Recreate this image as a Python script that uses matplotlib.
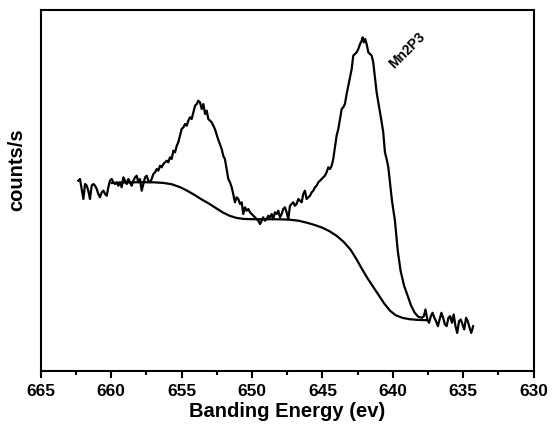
import matplotlib.pyplot as plt
from matplotlib.ticker import MultipleLocator

plt.rcParams["font.family"] = ["Liberation Sans", "DejaVu Sans"]

# binding energy (eV) and counts (arbitrary units)
energy = [
    662.33, 662.21, 662.09, 661.97, 661.85, 661.73, 661.62, 661.50, 661.38, 661.26,
    661.14, 661.02, 660.91, 660.79, 660.67, 660.55, 660.43, 660.31, 660.20, 660.08,
    659.96, 659.84, 659.72, 659.60, 659.49, 659.37, 659.25, 659.13, 659.01, 658.89,
    658.78, 658.66, 658.54, 658.42, 658.30, 658.18, 658.07, 657.95, 657.83, 657.71,
    657.59, 657.47, 657.36, 657.24, 657.12, 657.00, 656.88, 656.76, 656.65, 656.53,
    656.41, 656.29, 656.17, 656.05, 655.94, 655.82, 655.70, 655.58, 655.46, 655.34,
    655.23, 655.11, 654.99, 654.87, 654.75, 654.63, 654.52, 654.40, 654.28, 654.16,
    654.04, 653.92, 653.81, 653.69, 653.57, 653.45, 653.33, 653.21, 653.10, 652.98,
    652.86, 652.63, 652.41, 652.15, 652.04, 651.92, 651.80, 651.68, 651.56, 651.44,
    651.33, 651.21, 651.09, 650.97, 650.85, 650.73, 650.62, 650.50, 650.38, 650.26,
    650.14, 650.02, 649.91, 649.79, 649.67, 649.55, 649.43, 649.31, 649.20, 649.08,
    648.96, 648.84, 648.72, 648.60, 648.49, 648.37, 648.25, 648.13, 648.01, 647.89,
    647.78, 647.66, 647.54, 647.42, 647.30, 647.18, 647.07, 646.95, 646.83, 646.71,
    646.59, 646.47, 646.36, 646.24, 646.12, 646.00, 645.88, 645.76, 645.65, 645.53,
    645.41, 645.29, 645.17, 645.05, 644.94, 644.82, 644.70, 644.58, 644.46, 644.34,
    644.23, 644.11, 643.99, 643.87, 643.75, 643.63, 643.52, 643.40, 643.28, 643.16,
    643.04, 642.92, 642.81, 642.69, 642.57, 642.45, 642.33, 642.21, 642.14, 642.05,
    641.96, 641.86, 641.74, 641.62, 641.50, 641.39, 641.27, 641.15, 641.03, 640.91,
    640.79, 640.68, 640.56, 640.44, 640.32, 640.06, 639.85, 639.65, 639.45, 639.20,
    638.95, 638.70, 638.45, 638.20, 637.93, 637.80, 637.68, 637.55, 637.43, 637.30,
    637.18, 637.05, 636.93, 636.80, 636.68, 636.55, 636.43, 636.30, 636.18, 636.05,
    635.93, 635.80, 635.68, 635.55, 635.43, 635.30, 635.18, 635.05, 634.93, 634.80,
    634.68, 634.55, 634.43, 634.30,
]
counts = [
    190.0, 191.7, 181.7, 171.7, 186.7, 185.0, 180.0, 171.7, 185.0, 186.7,
    185.0, 181.7, 176.7, 173.4, 178.4, 180.0, 176.7, 175.0, 183.4, 190.0,
    191.7, 188.4, 186.7, 188.4, 185.0, 188.4, 183.4, 193.4, 190.0, 186.7,
    191.7, 188.4, 185.0, 190.0, 193.4, 195.0, 188.4, 191.7, 180.0, 186.7,
    193.4, 195.0, 190.0, 188.4, 191.7, 196.7, 198.4, 201.7, 200.0, 205.0,
    203.4, 206.7, 208.4, 210.0, 208.4, 213.4, 211.7, 220.0, 218.4, 225.0,
    228.4, 235.0, 241.7, 243.4, 246.7, 245.0, 250.0, 253.4, 251.7, 258.4,
    265.0, 266.7, 270.0, 268.4, 261.7, 266.7, 256.7, 260.0, 251.7, 250.0,
    248.4, 241.7, 231.7, 221.7, 215.0, 211.7, 201.7, 191.7, 188.4, 183.4,
    176.7, 168.4, 173.4, 171.7, 166.7, 168.4, 156.7, 163.4, 160.0, 161.7,
    158.4, 156.7, 155.0, 153.4, 151.7, 150.0, 146.7, 150.0, 153.4, 150.0,
    151.7, 155.0, 153.4, 156.7, 151.7, 158.4, 156.7, 160.0, 153.4, 156.7,
    161.7, 163.4, 158.4, 151.7, 165.0, 166.7, 168.4, 165.0, 166.7, 171.7,
    170.0, 168.4, 176.7, 180.0, 171.7, 173.4, 175.0, 178.4, 180.0, 183.4,
    185.0, 188.4, 190.0, 191.7, 193.4, 195.0, 198.4, 203.4, 201.7, 205.0,
    211.7, 223.0, 235.0, 241.7, 251.7, 261.7, 263.4, 266.7, 276.7, 285.0,
    293.4, 301.7, 315.0, 316.7, 318.4, 321.7, 326.7, 330.0, 333.4, 328.4,
    331.7, 326.7, 318.4, 316.7, 315.0, 308.4, 293.4, 278.4, 268.4, 258.4,
    248.4, 238.4, 218.4, 211.7, 203.4, 170.0, 150.0, 120.0, 100.0, 85.0,
    75.0, 65.0, 58.0, 54.0, 52.9, 54.5, 61.2, 51.2, 47.9, 54.5,
    57.9, 52.9, 49.5, 44.5, 51.2, 57.9, 52.9, 46.2, 44.5, 52.9,
    54.5, 47.9, 56.2, 44.5, 37.8, 49.5, 51.2, 46.2, 41.2, 52.9,
    49.5, 42.8, 37.8, 44.5,
]

# Shirley-type background
bg_energy = [
    659.95, 659.0, 658.0, 657.0, 656.3, 655.7, 655.1, 654.6, 654.1, 653.6,
    653.1, 652.6, 652.1, 651.6, 651.1, 650.6, 650.0, 649.0, 648.0, 647.3,
    646.7, 646.1, 645.5, 645.0, 644.5, 644.0, 643.5, 643.0, 642.6, 642.2,
    641.8, 641.4, 641.0, 640.6, 640.2, 639.8, 639.3, 638.8, 638.2, 637.6,
]
bg_counts = [
    187.7, 188.3, 188.5, 188.4, 187.8, 186.5, 183.5, 180.0, 176.0, 171.5,
    167.5, 163.0, 158.5, 155.0, 152.8, 151.8, 151.5, 151.5, 151.4, 151.0,
    150.0, 148.0, 145.5, 143.0, 139.5, 135.0, 129.0, 121.0, 112.0, 102.0,
    92.5, 84.0, 75.5, 67.0, 60.0, 55.5, 52.8, 51.5, 50.8, 50.5,
]

label_pos = (638.99, 321.5)

fig = plt.figure(figsize=(5.52, 4.27), dpi=100)
ax = fig.add_axes([0.0737, 0.1295, 0.8931, 0.8447])

ax.plot(energy, counts, color="black", lw=1.6)
ax.plot(bg_energy, bg_counts, color="black", lw=1.6)
ax.text(*label_pos, "Mn2P3", rotation=45, ha="center", va="center",
        fontsize=10, fontweight="bold")

ax.set_xlim(665, 630)
ax.set_ylim(0, 360.7)
ax.xaxis.set_major_locator(MultipleLocator(5))
ax.xaxis.set_minor_locator(MultipleLocator(2.5))
ax.tick_params(axis="x", which="major", direction="out", length=5, width=1.5,
               labelsize=12.5, pad=4)
ax.tick_params(axis="x", which="minor", direction="out", length=3, width=1.5)
for lab in ax.get_xticklabels():
    lab.set_fontweight("bold")
ax.set_yticks([])
for spine in ax.spines.values():
    spine.set_linewidth(1.5)

ax.set_xlabel("Banding Energy (ev)", fontsize=14.5, fontweight="bold", labelpad=2)
ax.set_ylabel("counts/s", fontsize=14.5, fontweight="bold")
ax.yaxis.set_label_coords(-0.029, 0.56)

fig.savefig("out.png", dpi=100)
